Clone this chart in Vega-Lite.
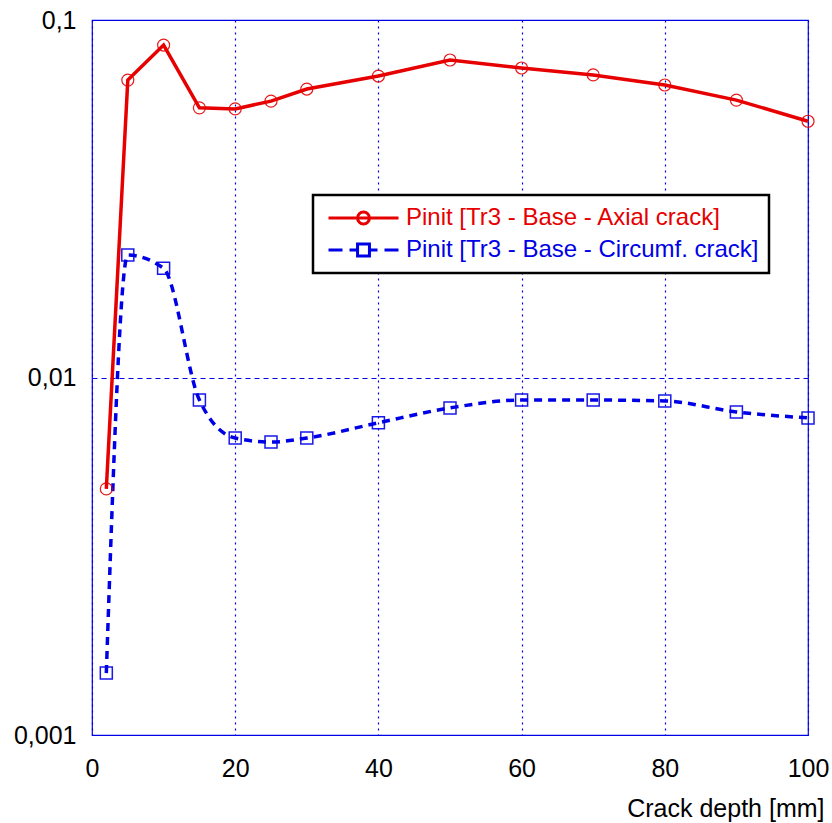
{
  "$schema": "https://vega.github.io/schema/vega-lite/v6.json",
  "autosize": {"type": "none"},
  "width": 716,
  "height": 715,
  "padding": {"left": 92, "top": 20, "right": 24, "bottom": 88},
  "background": "white",
  "config": {
    "font": "Liberation Sans",
    "view": {"stroke": "#0000e6", "strokeWidth": 1.2},
    "axis": {"domain": false, "labelFont": "Liberation Sans", "titleFont": "Liberation Sans"}
  },
  "data": {
    "values": [
      {"depth": 2, "pinit": 0.00488, "series": "Pinit [Tr3 - Base - Axial crack]"},
      {"depth": 5, "pinit": 0.0679, "series": "Pinit [Tr3 - Base - Axial crack]"},
      {"depth": 10, "pinit": 0.0851, "series": "Pinit [Tr3 - Base - Axial crack]"},
      {"depth": 15, "pinit": 0.0568, "series": "Pinit [Tr3 - Base - Axial crack]"},
      {"depth": 20, "pinit": 0.0564, "series": "Pinit [Tr3 - Base - Axial crack]"},
      {"depth": 25, "pinit": 0.0593, "series": "Pinit [Tr3 - Base - Axial crack]"},
      {"depth": 30, "pinit": 0.0641, "series": "Pinit [Tr3 - Base - Axial crack]"},
      {"depth": 40, "pinit": 0.0697, "series": "Pinit [Tr3 - Base - Axial crack]"},
      {"depth": 50, "pinit": 0.0773, "series": "Pinit [Tr3 - Base - Axial crack]"},
      {"depth": 60, "pinit": 0.0734, "series": "Pinit [Tr3 - Base - Axial crack]"},
      {"depth": 70, "pinit": 0.0702, "series": "Pinit [Tr3 - Base - Axial crack]"},
      {"depth": 80, "pinit": 0.0658, "series": "Pinit [Tr3 - Base - Axial crack]"},
      {"depth": 90, "pinit": 0.0597, "series": "Pinit [Tr3 - Base - Axial crack]"},
      {"depth": 100, "pinit": 0.0521, "series": "Pinit [Tr3 - Base - Axial crack]"},
      {"depth": 2, "pinit": 0.00149, "series": "Pinit [Tr3 - Base - Circumf. crack]"},
      {"depth": 5, "pinit": 0.0220, "series": "Pinit [Tr3 - Base - Circumf. crack]"},
      {"depth": 10, "pinit": 0.0202, "series": "Pinit [Tr3 - Base - Circumf. crack]"},
      {"depth": 15, "pinit": 0.00865, "series": "Pinit [Tr3 - Base - Circumf. crack]"},
      {"depth": 20, "pinit": 0.00677, "series": "Pinit [Tr3 - Base - Circumf. crack]"},
      {"depth": 25, "pinit": 0.00660, "series": "Pinit [Tr3 - Base - Circumf. crack]"},
      {"depth": 30, "pinit": 0.00677, "series": "Pinit [Tr3 - Base - Circumf. crack]"},
      {"depth": 40, "pinit": 0.00747, "series": "Pinit [Tr3 - Base - Circumf. crack]"},
      {"depth": 50, "pinit": 0.00822, "series": "Pinit [Tr3 - Base - Circumf. crack]"},
      {"depth": 60, "pinit": 0.00865, "series": "Pinit [Tr3 - Base - Circumf. crack]"},
      {"depth": 70, "pinit": 0.00865, "series": "Pinit [Tr3 - Base - Circumf. crack]"},
      {"depth": 80, "pinit": 0.00860, "series": "Pinit [Tr3 - Base - Circumf. crack]"},
      {"depth": 90, "pinit": 0.00801, "series": "Pinit [Tr3 - Base - Circumf. crack]"},
      {"depth": 100, "pinit": 0.00771, "series": "Pinit [Tr3 - Base - Circumf. crack]"}
    ]
  },
  "encoding": {
    "x": {
      "field": "depth",
      "type": "quantitative",
      "scale": {"domain": [0, 100], "nice": false, "zero": false},
      "axis": {
        "values": [0, 20, 40, 60, 80, 100],
        "format": "d",
        "grid": true,
        "gridColor": "#0000e6",
        "gridDash": [2, 4],
        "gridWidth": 1.2,
        "ticks": false,
        "labelFontSize": 25,
        "labelColor": "black",
        "labelPadding": 21,
        "labelFlush": false,
        "title": "Crack depth [mm]",
        "titleFontSize": 25,
        "titleFontWeight": "normal",
        "titleColor": "black",
        "titleAnchor": null,
        "titleAlign": "right",
        "titleBaseline": "middle",
        "titleX": 732,
        "titleY": 73
      }
    },
    "y": {
      "field": "pinit",
      "type": "quantitative",
      "scale": {"type": "log", "domain": [0.001, 0.1], "nice": false},
      "axis": {
        "values": [0.001, 0.01, 0.1],
        "labelExpr": "replace(format(datum.value, '~g'), '.', ',')",
        "grid": true,
        "gridColor": "#0000e6",
        "gridDash": [5, 4],
        "gridWidth": 1,
        "ticks": false,
        "labelFontSize": 25,
        "labelColor": "black",
        "labelPadding": 16,
        "labelFlush": false,
        "title": null
      }
    }
  },
  "layer": [
    {
      "transform": [{"filter": "datum.series === 'Pinit [Tr3 - Base - Axial crack]'"}],
      "mark": {"type": "line", "strokeWidth": 3.5, "interpolate": "linear"},
      "encoding": {
        "color": {
          "field": "series",
          "type": "nominal",
          "scale": {
            "domain": ["Pinit [Tr3 - Base - Axial crack]", "Pinit [Tr3 - Base - Circumf. crack]"],
            "range": ["#e60000", "#0000e6"]
          },
          "legend": {
            "orient": "none",
            "legendX": 221,
            "legendY": 175,
            "title": null,
            "padding": 10,
            "fillColor": "white",
            "strokeColor": "black",
            "labelFontSize": 24,
            "labelFont": "Liberation Sans",
            "labelOffset": 6,
            "labelLimit": 600,
            "symbolType": "M-1,0H1M-0.17,0A0.17,0.17,0,1,1,0.17,0A0.17,0.17,0,1,1,-0.17,0Z",
            "symbolSize": 4900,
            "symbolStrokeWidth": 3,
            "symbolOffset": 4,
            "clipHeight": 26,
            "rowPadding": 6,
            "encoding": {
              "legend": {"strokeWidth": {"value": 2.5}},
              "labels": {
                "fill": {
                  "condition": {"test": "datum.value === 'Pinit [Tr3 - Base - Circumf. crack]'", "value": "#0000e6"},
                  "value": "#e60000"
                }
              },
              "symbols": {
                "shape": {
                  "condition": {"test": "datum.value === 'Pinit [Tr3 - Base - Circumf. crack]'", "value": "M-1,0H-0.6M-0.4,0H-0.2M-0.17,-0.17H0.17V0.17H-0.17ZM0.2,0H0.4M0.6,0H1"},
                  "value": "M-1,0H1M-0.17,0A0.17,0.17,0,1,1,0.17,0A0.17,0.17,0,1,1,-0.17,0Z"
                }
              }
            }
          }
        }
      }
    },
    {
      "transform": [{"filter": "datum.series === 'Pinit [Tr3 - Base - Circumf. crack]'"}],
      "mark": {"type": "line", "strokeWidth": 3.5, "strokeDash": [8, 6], "interpolate": "monotone"},
      "encoding": {
        "color": {"field": "series", "type": "nominal"}
      }
    },
    {
      "transform": [{"filter": "datum.series === 'Pinit [Tr3 - Base - Axial crack]'"}],
      "mark": {"type": "point", "shape": "circle", "size": 144, "filled": false, "stroke": "#e60000", "strokeWidth": 1.2, "opacity": 0.9}
    },
    {
      "transform": [{"filter": "datum.series === 'Pinit [Tr3 - Base - Circumf. crack]'"}],
      "mark": {"type": "point", "shape": "square", "size": 144, "filled": false, "stroke": "#0000e6", "strokeWidth": 1.5, "opacity": 0.9}
    }
  ]
}
